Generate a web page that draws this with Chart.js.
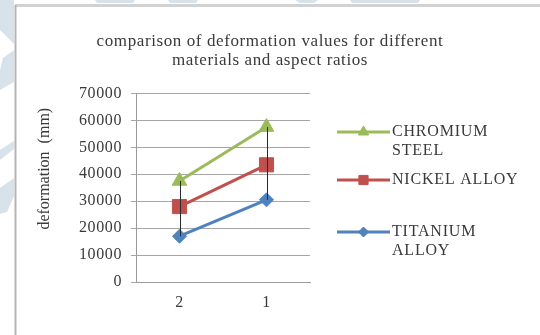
<!DOCTYPE html>
<html>
<head>
<meta charset="utf-8">
<script src="https://cdn.jsdelivr.net/npm/chart.js@4.4.1/dist/chart.umd.min.js"></script>
<style>
  html, body { margin: 0; padding: 0; background: #ffffff; }
  #wrap { width: 540px; height: 335px; position: relative; }
</style>
</head>
<body>
<div id="wrap"><canvas id="chart" width="540" height="335"></canvas></div>
<script>
// Aspect ratios on the category axis
const aspectRatios = ['2', '1'];

// Deformation (mm) per material
const titaniumAlloy = [17000, 30500];
const nickelAlloy = [28000, 43500];
const chromiumSteel = [37500, 57500];

const seriesNames = ['TITANIUM ALLOY', 'NICKEL ALLOY', 'CHROMIUM STEEL'];
// Legend text as it wraps in the legend column
const legendLines = [['TITANIUM', 'ALLOY'], ['NICKEL ALLOY'], ['CHROMIUM', 'STEEL']];

const yTicks = [0, 10000, 20000, 30000, 40000, 50000, 60000, 70000];

const chartTitle = ['comparison of deformation values for different', 'materials and aspect ratios'];
const yTitle = 'deformation  (mm)';

const SERIF = "'Liberation Serif', 'Times New Roman', serif";
const TEXT = '#3a3a3a';

// Slightly tracked-out text throughout
const spacingPlugin = {
  id: 'spacing',
  beforeUpdate(chart) { chart.ctx.letterSpacing = '0.6px'; },
  beforeDraw(chart) { chart.ctx.letterSpacing = '0.6px'; }
};

// Page frame and faint background marks outside it
const framePlugin = {
  id: 'frame',
  beforeDraw(chart) {
    const ctx = chart.ctx;
    ctx.save();
    ctx.fillStyle = '#ffffff';
    ctx.fillRect(0, 0, chart.width, chart.height);
    ctx.fillStyle = 'rgba(200, 213, 226, 0.7)';
    const marks = [
      [[0, 0], [14, 0], [14, 44], [0, 30]],
      [[3, 58], [14, 50], [14, 82], [0, 90], [0, 70]],
      [[0, 150], [14, 141], [14, 149], [0, 160]],
      [[0, 188], [14, 178], [14, 196], [7, 212], [0, 214]],
      [[95, 0], [135, 0], [133, 3], [97, 3]],
      [[168, 0], [198, 0], [196, 3], [170, 3]],
      [[295, 0], [318, 0], [314, 3], [300, 3]],
      [[350, 0], [420, 0], [418, 3], [352, 3]]
    ];
    marks.forEach(poly => {
      ctx.beginPath();
      poly.forEach((p, i) => i ? ctx.lineTo(p[0], p[1]) : ctx.moveTo(p[0], p[1]));
      ctx.closePath();
      ctx.fill();
    });
    ctx.strokeStyle = '#d2d2d2';
    ctx.lineWidth = 3;
    ctx.beginPath();
    ctx.moveTo(15, 5.5);
    ctx.lineTo(chart.width, 5.5);
    ctx.stroke();
    ctx.strokeStyle = '#b4b4b4';
    ctx.lineWidth = 2;
    ctx.beginPath();
    ctx.moveTo(15.5, chart.height);
    ctx.lineTo(15.5, 5);
    ctx.stroke();
    ctx.restore();
  }
};

// Vertical high-low line at each category, from lowest to highest series value
const highLowPlugin = {
  id: 'highLow',
  afterDatasetsDraw(chart) {
    const ctx = chart.ctx;
    const xs = chart.scales.x, ys = chart.scales.y;
    ctx.save();
    ctx.strokeStyle = '#2b2b2b';
    ctx.lineWidth = 1;
    chart.data.labels.forEach((lab, i) => {
      const vals = chart.data.datasets.map(d => d.data[i]);
      const x = Math.round(xs.getPixelForValue(i)) + 0.5;
      ctx.beginPath();
      ctx.moveTo(x, ys.getPixelForValue(Math.min(...vals)));
      ctx.lineTo(x, ys.getPixelForValue(Math.max(...vals)));
      ctx.stroke();
    });
    ctx.restore();
  }
};

// Rotated value-axis title, set a little above the plot's middle
const yTitlePlugin = {
  id: 'yTitle',
  afterDraw(chart) {
    const ctx = chart.ctx;
    const area = chart.chartArea;
    ctx.save();
    ctx.letterSpacing = '0px';
    ctx.translate(45, (area.top + area.bottom) / 2 - 19);
    ctx.rotate(-Math.PI / 2);
    ctx.font = '16px ' + SERIF;
    ctx.fillStyle = TEXT;
    ctx.textAlign = 'center';
    ctx.textBaseline = 'middle';
    ctx.fillText(yTitle, 0, 0);
    ctx.restore();
  }
};

const legendMarkerRadius = { rectRot: 5, rect: 6.5, triangle: 6 };

// Legend column: line sample with marker, followed by wrapped text
const legendPlugin = {
  id: 'sideLegend',
  afterDraw(chart) {
    const ctx = chart.ctx;
    const area = chart.chartArea;
    const rowY = [232, 180, 132];
    const x0 = area.right + 27, x1 = area.right + 80;
    ctx.save();
    ctx.letterSpacing = '0.8px';
    ctx.font = '16px ' + SERIF;
    ctx.textBaseline = 'middle';
    ctx.textAlign = 'left';
    chart.data.datasets.forEach((ds, i) => {
      const y = rowY[i];
      ctx.strokeStyle = ds.borderColor;
      ctx.lineWidth = 3;
      ctx.beginPath();
      ctx.moveTo(x0, y);
      ctx.lineTo(x1, y);
      ctx.stroke();
      ctx.fillStyle = ds.backgroundColor;
      ctx.strokeStyle = ds.borderColor;
      ctx.lineWidth = 1;
      Chart.helpers.drawPoint(ctx, {
        pointStyle: ds.pointStyle,
        radius: legendMarkerRadius[ds.pointStyle],
        rotation: 0,
        borderWidth: 1
      }, (x0 + x1) / 2, y);
      ctx.fillStyle = TEXT;
      legendLines[i].forEach((line, k) => ctx.fillText(line, x1 + 2, y + k * 19));
    });
    ctx.restore();
  }
};

const seriesColors = ['#4F81BD', '#C0504D', '#9BBB59'];
const seriesMarkers = ['rectRot', 'rect', 'triangle'];
const markerRadius = [7, 10, 8.5];
const seriesData = [titaniumAlloy, nickelAlloy, chromiumSteel];

new Chart(document.getElementById('chart'), {
  type: 'line',
  data: {
    labels: aspectRatios,
    datasets: seriesData.map((vals, i) => ({
      label: seriesNames[i],
      data: vals,
      borderColor: seriesColors[i],
      backgroundColor: seriesColors[i],
      borderWidth: 3,
      pointStyle: seriesMarkers[i],
      pointRadius: markerRadius[i],
      pointHoverRadius: markerRadius[i],
      pointBorderWidth: 1,
      tension: 0,
      clip: false
    }))
  },
  options: {
    responsive: false,
    animation: false,
    events: [],
    layout: { padding: { top: 7, left: 15, right: 15, bottom: 0 } },
    plugins: {
      legend: { display: false },
      tooltip: { enabled: false },
      title: {
        display: true,
        text: chartTitle,
        color: TEXT,
        font: { family: SERIF, size: 17, weight: 'normal', lineHeight: 1.13 },
        padding: { top: 25, bottom: 23 }
      }
    },
    scales: {
      x: {
        offset: true,
        grid: { display: false, drawTicks: false },
        border: { display: true, color: '#9a9a9a', width: 1 },
        ticks: { color: TEXT, font: { family: SERIF, size: 16 }, padding: 11 },
        afterFit(s) { s.height = 53; }
      },
      y: {
        min: 0,
        max: 70000,
        afterBuildTicks(s) { s.ticks = yTicks.map(v => ({ value: v })); },
        grid: { color: '#a6a6a6', lineWidth: 1, tickLength: 5, drawTicks: true },
        border: { display: true, color: '#9a9a9a', width: 1 },
        ticks: {
          color: TEXT,
          font: { family: SERIF, size: 16 },
          padding: 9,
          callback: v => String(v)
        },
        afterFit(s) { s.width = 121; }
      },
      legendSpace: {
        axis: 'y',
        position: 'right',
        display: true,
        grid: { display: false, drawTicks: false },
        border: { display: false },
        ticks: { display: false },
        afterFit(s) { s.width = 215; }
      }
    }
  },
  plugins: [spacingPlugin, framePlugin, highLowPlugin, yTitlePlugin, legendPlugin]
});
</script>
</body>
</html>
